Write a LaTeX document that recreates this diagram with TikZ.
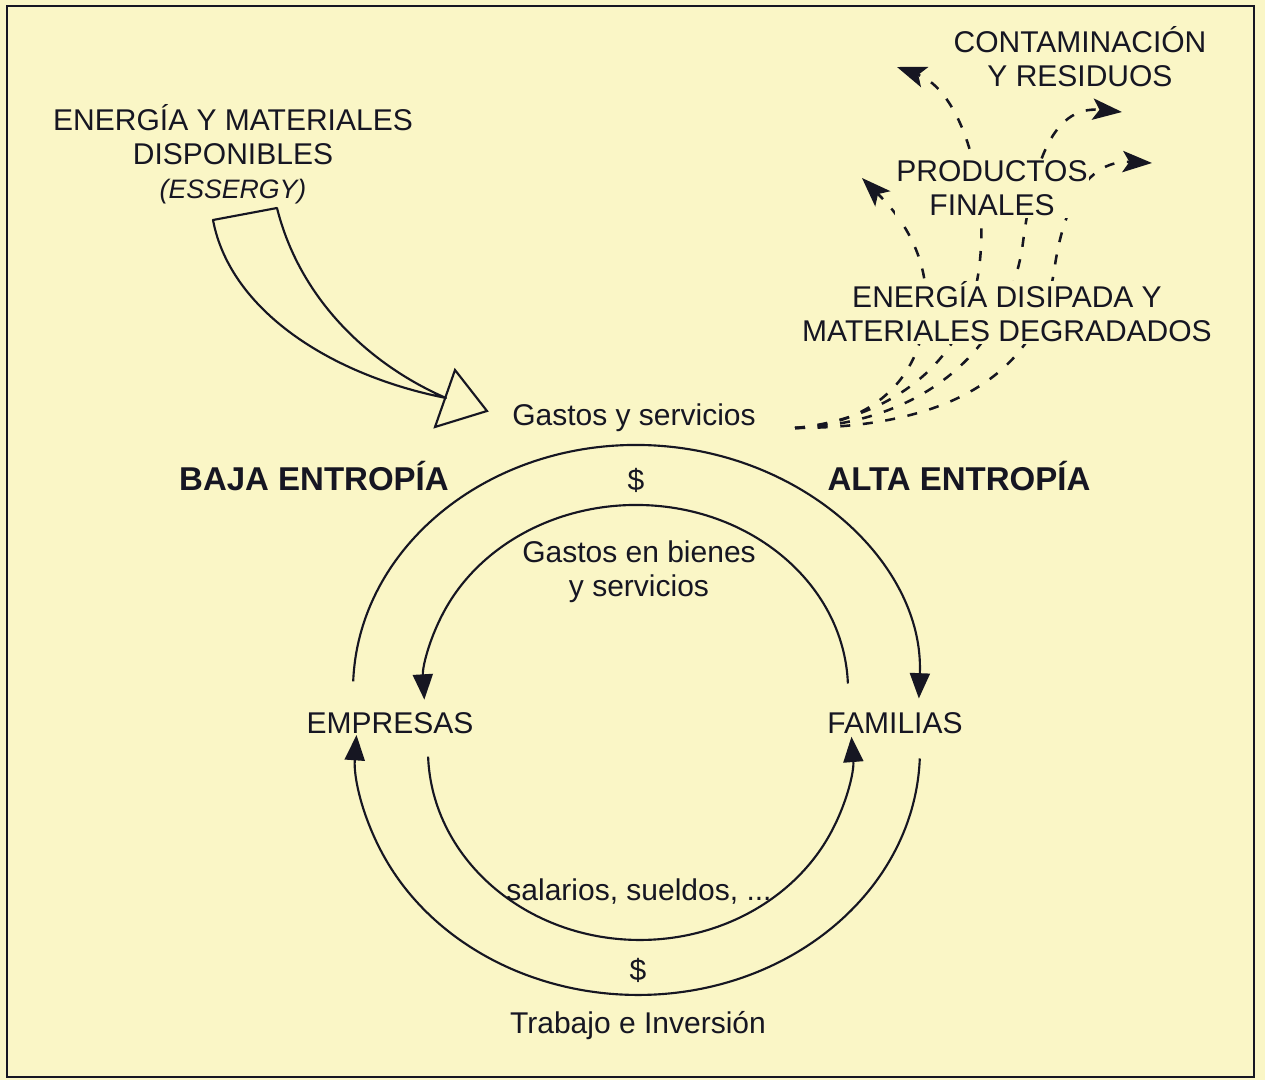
\documentclass[tikz,border=0pt]{standalone}
\usepackage{fontspec}
\setmainfont{Liberation Sans}
\usetikzlibrary{arrows.meta}
\definecolor{paper}{RGB}{250,246,198}
\definecolor{ink}{RGB}{22,22,34}

\begin{document}
\begin{tikzpicture}[x=0.75pt,y=0.75pt,yscale=-1,xscale=1,
  lbl/.style={font=\fontsize{22.5}{25.5}\selectfont, text=ink, align=center, anchor=base, inner sep=1pt},
  hd/.style={lbl, font=\fontsize{24.75}{28}\selectfont\bfseries},
  cover/.style={lbl, fill=paper},
  flow/.style={draw=ink, line width=1.6, -{Triangle[length=19pt,width=15pt]}},
  waste/.style={draw=ink, line width=1.9, dash pattern=on 7.5pt off 9.5pt, -{Stealth[length=22pt,width=16pt,inset=5pt]}},
  hollow/.style={draw=ink, line width=1.6, line join=round}
]
%uncomment if require: \path (0,1080); %set diagram left start at 0, and has height of 1080
\useasboundingbox (0,0) rectangle (1265,1080);
\fill [paper] (0,0) rectangle (1265,1080);
\draw [ink, line width=1.5] (7,6) rectangle (1254,1077);

% entrada de essergy
\coordinate (tailL) at (213,220);
\coordinate (tailR) at (277,208);
\coordinate (neck) at (446,398);
\draw [hollow] (tailL) -- (tailR) .. controls (300,300) and (370,365) .. (neck) .. controls (330,375) and (230,310) .. (tailL) -- cycle;
\draw [hollow, line join=miter] (455,370) -- (487,411) -- (435,427) -- cycle;

% salidas de alta entropia
\coordinate (fan) at (795,428);
\coordinate (toProdL) at (862,178);
\coordinate (toContL) at (897,67);
\coordinate (toContR) at (1122,112);
\coordinate (toProdR) at (1152,163);
\draw [waste] (fan) .. controls (870,425) and (925,380) .. (926,300) .. controls (926,240) and (885,201) .. (toProdL);
\draw [waste] (fan) .. controls (880,420) and (970,370) .. (980,260) .. controls (988,180) and (960,90) .. (toContL);
\draw [waste] (fan) .. controls (900,425) and (1000,370) .. (1022,250) .. controls (1032,170) and (1050,105) .. (toContR);
\draw [waste] (fan) .. controls (940,428) and (1040,380) .. (1055,265) .. controls (1065,200) and (1090,160) .. (toProdR);

% flujo circular
\coordinate (outTopL) at (353.2,681.4);
\coordinate (inTopR) at (847.9,683.5);
\coordinate (outBotR) at (919.8,758.5);
\coordinate (inBotL) at (428.1,756.6);
\draw [flow] (outTopL) arc[start angle=182, end angle=362, x radius=283, y radius=245];
\draw [flow] (inTopR) arc[start angle=-2, end angle=-183, x radius=212, y radius=185];
\draw [flow] (outBotR) arc[start angle=2, end angle=183.5, x radius=282, y radius=245];
\draw [flow] (inBotL) arc[start angle=178, end angle=-4, x radius=212, y radius=190];

\draw (233,199) node [lbl] (essergy) {ENERGÍA Y MATERIALES\\DISPONIBLES\\{\fontsize{20}{24}\selectfont\itshape (ESSERGY)}};
\draw (1080,87) node [lbl] (conta) {CONTAMINACIÓN\\Y RESIDUOS};
\draw (992,216) node [cover] (prod) {PRODUCTOS\\FINALES};
\draw (1007,342) node [cover] (disip) {ENERGÍA DISIPADA Y\\MATERIALES DEGRADADOS};
\draw (634,426) node [lbl] (gastos) {Gastos y servicios};
\draw (314,491) node [hd] (baja) {BAJA ENTROPÍA};
\draw (959,491) node [hd] (alta) {ALTA ENTROPÍA};
\draw (636,491) node [lbl] (usdTop) {\$};
\draw (639,597) node [lbl] (bienes) {Gastos en bienes\\y servicios};
\draw (390,733) node [lbl] (empresas) {EMPRESAS};
\draw (895,733) node [lbl] (familias) {FAMILIAS};
\draw (639,900) node [lbl] (salarios) {salarios, sueldos, ...};
\draw (638,980) node [lbl] (usdBot) {\$};
\draw (638,1033) node [lbl] (trabajo) {Trabajo e Inversión};
\end{tikzpicture}
\end{document}
